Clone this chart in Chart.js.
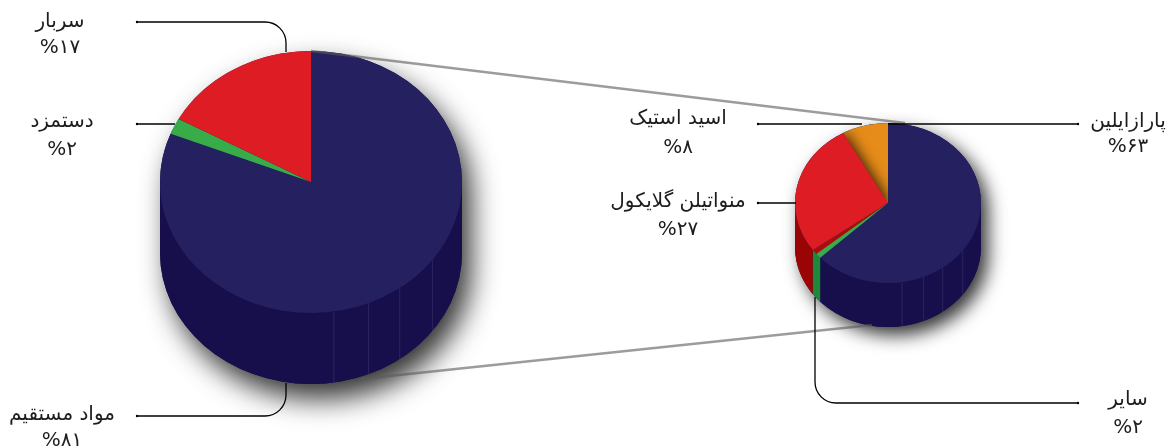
<!DOCTYPE html>
<html lang="fa">
<head>
<meta charset="utf-8">
<title>ساختار هزینه تولید</title>
<script src="https://cdn.jsdelivr.net/npm/chart.js@4"></script>
<style>
  html, body { margin: 0; padding: 0; background: #fff; overflow: hidden; }
  canvas { position: absolute; left: 0; top: 0; }
</style>
</head>
<body>
<canvas id="costPie" width="1166" height="448"></canvas>
<canvas id="materialPie" width="1166" height="448"></canvas>
<script>
// cost split
const costLabels = ["مواد مستقیم", "دستمزد", "سربار"];
const costValues = [81, 2, 17];
const costPercentText = ["%۸۱", "%۲", "%۱۷"];

// raw material split
const materialLabels = ["پارازایلین", "سایر", "منواتیلن گلایکول", "اسید استیک"];
const materialValues = [63, 2, 27, 8];
const materialPercentText = ["%۶۳", "%۲", "%۲۷", "%۸"];

const costColors = ["#252060", "#39ac4a", "#dd1c24"];
const costWallColors = ["#170f4c", "#1d8a3a", "#9b0404"];
const materialColors = ["#252060", "#39ac4a", "#dd1c24", "#e68c1a"];
const materialWallColors = ["#170f4c", "#1d8a3a", "#9b0404", "#b06a10"];

// seams on the front wall, degrees from straight down towards the right
const seamDegrees = [8.7, 22.4, 36, 53.5];

const WIDTH = 1166, HEIGHT = 448;

// the pie circle is squashed to an ellipse and extruded downwards
const pie3d = {
  id: "pie3d",
  beforeDatasetsDraw(chart, args, opts) {
    const ctx = chart.ctx;
    const arcs = chart.getDatasetMeta(0).data;
    const cx = arcs[0].x, cy = arcs[0].y, r = arcs[0].outerRadius;
    const ry = r * opts.squash, depth = opts.depth;

    // drop shadow of the whole cylinder
    ctx.save();
    ctx.shadowColor = "rgba(0,0,0,0.8)";
    ctx.shadowBlur = opts.shadowBlur;
    ctx.shadowOffsetX = opts.shadowX;
    ctx.shadowOffsetY = opts.shadowY;
    ctx.fillStyle = opts.wallColors[0];
    ctx.beginPath();
    ctx.ellipse(cx, cy, r, ry, 0, Math.PI, 0);
    ctx.lineTo(cx + r, cy + depth);
    ctx.ellipse(cx, cy + depth, r, ry, 0, 0, Math.PI);
    ctx.closePath();
    ctx.fill();
    ctx.restore();

    // front wall, one piece per slice
    arcs.forEach(function (arc, i) {
      const a0 = Math.max(arc.startAngle, 0);
      const a1 = Math.min(arc.endAngle, Math.PI);
      if (a1 <= a0) return;
      ctx.fillStyle = opts.wallColors[i];
      ctx.beginPath();
      ctx.ellipse(cx, cy, r, ry, 0, a0, a1);
      ctx.ellipse(cx, cy + depth, r, ry, 0, a1, a0, true);
      ctx.closePath();
      ctx.fill();
    });

    ctx.strokeStyle = "rgba(255,255,255,0.09)";
    ctx.lineWidth = 1;
    seamDegrees.forEach(function (deg) {
      const a = Math.PI / 2 - deg * Math.PI / 180;
      const x = cx + r * Math.cos(a), y = cy + ry * Math.sin(a);
      ctx.beginPath();
      ctx.moveTo(x, y);
      ctx.lineTo(x, y + depth);
      ctx.stroke();
    });

    ctx.save();
    ctx.translate(cx, cy);
    ctx.scale(1, opts.squash);
    ctx.translate(-cx, -cy);
  },
  afterDatasetsDraw(chart, args, opts) {
    const ctx = chart.ctx;
    ctx.restore();
    if (opts.detail) opts.detail(chart, opts);
  }
};

function wedge(ctx, arc, squash) {
  ctx.beginPath();
  ctx.moveTo(arc.x, arc.y);
  ctx.ellipse(arc.x, arc.y, arc.outerRadius, arc.outerRadius * squash, 0, arc.startAngle, arc.endAngle);
  ctx.closePath();
}

// red slice sits proud: dark edge over the green one, and it shades the orange one
function materialDetail(chart, opts) {
  const ctx = chart.ctx;
  const arcs = chart.getDatasetMeta(0).data;
  const green = arcs[1], red = arcs[2], orange = arcs[3];
  const r = red.outerRadius, ry = r * opts.squash;

  const edge = red.startAngle - (green.endAngle - green.startAngle) * 0.5;
  ctx.fillStyle = "#a90b10";
  ctx.beginPath();
  ctx.moveTo(red.x, red.y);
  ctx.lineTo(red.x + r * Math.cos(red.startAngle), red.y + ry * Math.sin(red.startAngle));
  ctx.lineTo(red.x + r * Math.cos(edge), red.y + ry * Math.sin(edge));
  ctx.closePath();
  ctx.fill();

  ctx.save();
  wedge(ctx, orange, opts.squash);
  ctx.clip();
  ctx.shadowColor = "rgba(0,0,0,0.8)";
  ctx.shadowBlur = 14;
  ctx.shadowOffsetX = 2;
  ctx.fillStyle = materialColors[2];
  wedge(ctx, red, opts.squash);
  ctx.fill();
  ctx.restore();
}

// label blocks: centre x, name baseline, percent baseline
const costLabelPos = [[62, 420, 446], [62, 127, 155], [60, 27, 53]];
const materialLabelPos = [[1128, 127, 152], [1128, 405, 433], [678, 207, 235], [678, 124, 153]];

// leader lines with their rounded corners
const leaders = [
  [[137, 22], [286, 22], [286, 52]],
  [[137, 124], [175, 124]],
  [[137, 416], [286, 416], [286, 383]],
  [[758, 124], [862, 124]],
  [[758, 203], [796, 203]],
  [[1078, 124], [888, 124]],
  [[1078, 403], [815, 403], [815, 297]]
];
const zoomLines = [
  [[311, 51], [905, 123]],
  [[361, 379], [872, 325]]
];

const callouts = {
  id: "callouts",
  afterDraw(chart) {
    const ctx = chart.ctx;
    ctx.save();

    ctx.strokeStyle = "rgba(90,90,90,0.6)";
    ctx.lineWidth = 2.5;
    zoomLines.forEach(function (l) {
      ctx.beginPath();
      ctx.moveTo(l[0][0], l[0][1]);
      ctx.lineTo(l[1][0], l[1][1]);
      ctx.stroke();
    });

    ctx.strokeStyle = "#000";
    ctx.fillStyle = "#000";
    ctx.lineWidth = 1.3;
    leaders.forEach(function (l) {
      ctx.beginPath();
      ctx.moveTo(l[0][0], l[0][1]);
      for (let i = 1; i < l.length - 1; i++) {
        ctx.arcTo(l[i][0], l[i][1], l[i + 1][0], l[i + 1][1], 21);
      }
      ctx.lineTo(l[l.length - 1][0], l[l.length - 1][1]);
      ctx.stroke();
      ctx.beginPath();
      ctx.arc(l[0][0], l[0][1], 1.2, 0, Math.PI * 2);
      ctx.fill();
    });

    ctx.fillStyle = "#1d1d1b";
    ctx.font = "20px 'DejaVu Sans'";
    ctx.direction = "rtl";
    ctx.textAlign = "center";
    costLabels.forEach(function (name, i) {
      ctx.fillText(name, costLabelPos[i][0], costLabelPos[i][1]);
      ctx.fillText(costPercentText[i], costLabelPos[i][0], costLabelPos[i][2]);
    });
    materialLabels.forEach(function (name, i) {
      ctx.fillText(name, materialLabelPos[i][0], materialLabelPos[i][1]);
      ctx.fillText(materialPercentText[i], materialLabelPos[i][0], materialLabelPos[i][2]);
    });
    ctx.restore();
  }
};

// keeps the pie circle at a fixed centre and radius on the full-page canvas
function padFor(cx, cy, r) {
  return { left: cx - r, right: WIDTH - cx - r, top: cy - r, bottom: HEIGHT - cy - r };
}

function makePie(id, labels, values, colors, layout, settings, extra) {
  return new Chart(id, {
    type: "pie",
    data: {
      labels: labels,
      datasets: [{ data: values, backgroundColor: colors, borderWidth: 0, hoverOffset: 0 }]
    },
    options: {
      responsive: false,
      animation: false,
      layout: { padding: layout },
      plugins: { legend: { display: false }, tooltip: { enabled: false }, pie3d: settings }
    },
    plugins: extra
  });
}

makePie("costPie", costLabels, costValues, costColors, padFor(311, 182, 151),
  { squash: 131 / 151, depth: 71, shadowBlur: 28, shadowX: 9, shadowY: 15, wallColors: costWallColors },
  [pie3d]);

makePie("materialPie", materialLabels, materialValues, materialColors, padFor(888, 203, 93),
  { squash: 80 / 93, depth: 44, shadowBlur: 18, shadowX: 7, shadowY: 8, wallColors: materialWallColors, detail: materialDetail },
  [pie3d, callouts]);
</script>
</body>
</html>
